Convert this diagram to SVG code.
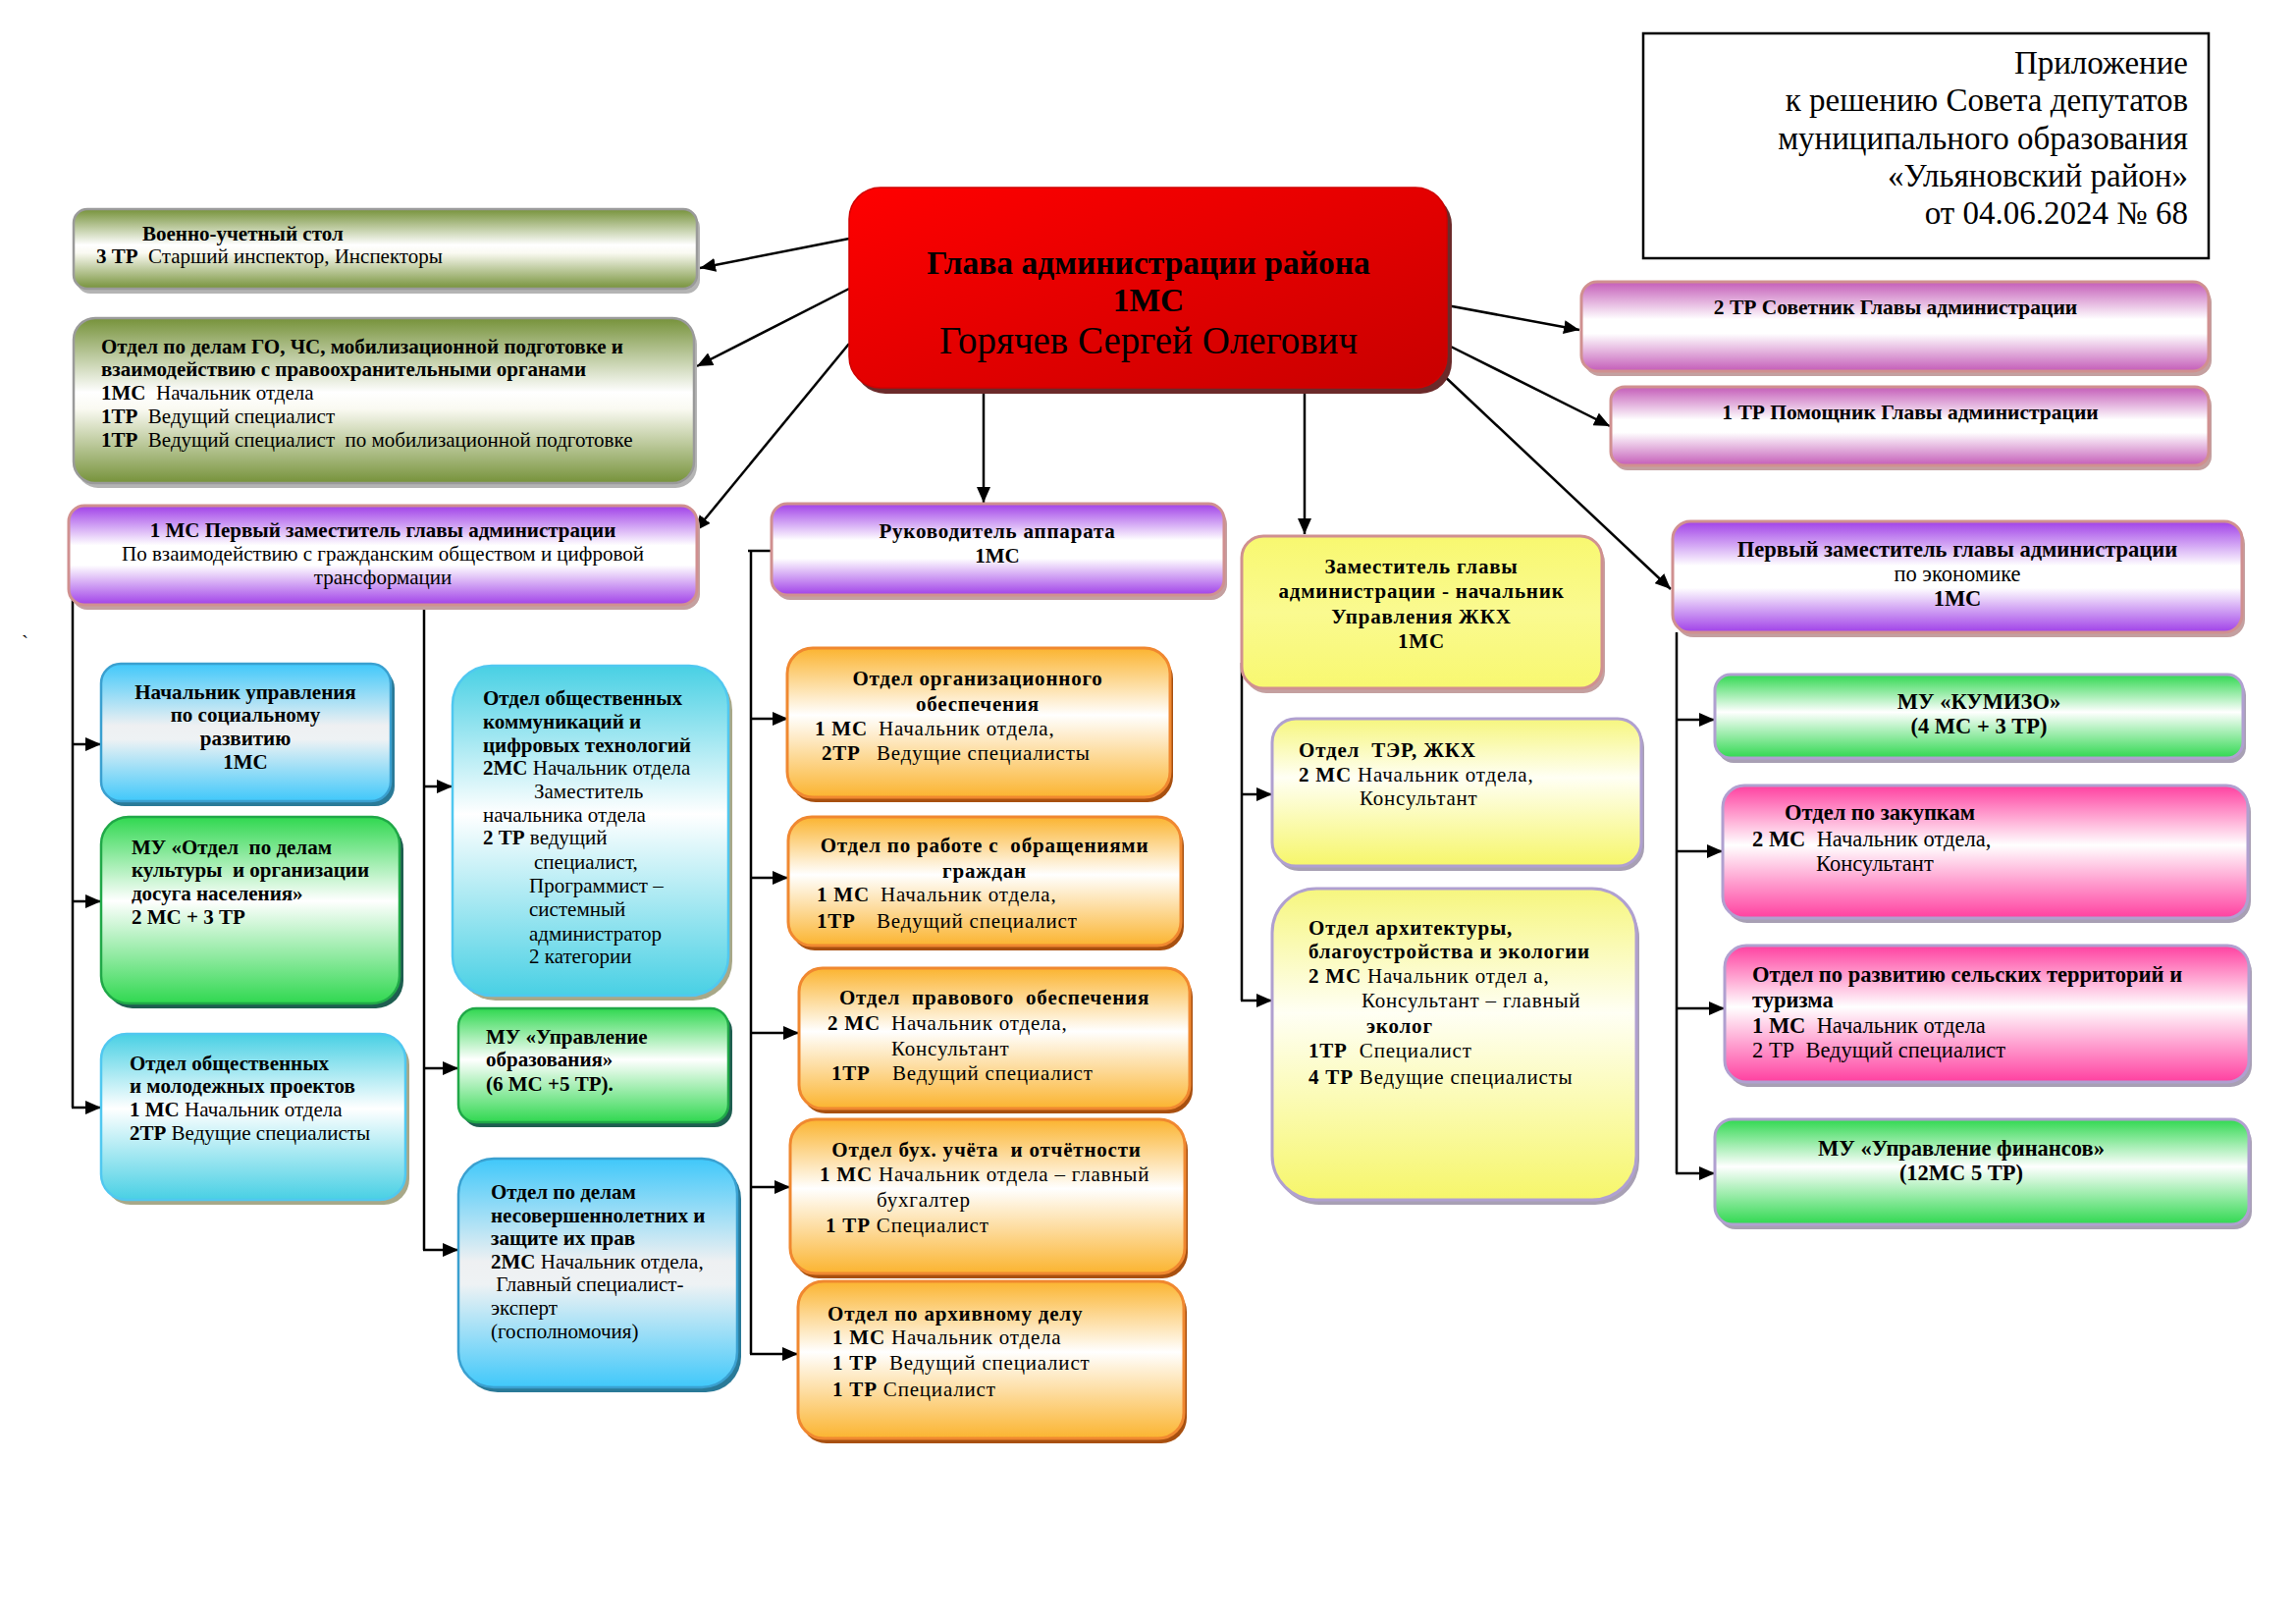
<svg xmlns="http://www.w3.org/2000/svg" width="2339" height="1654" viewBox="0 0 2339 1654">
<defs>
<linearGradient id="gRed" x1="0" y1="0" x2="1" y2="1"><stop offset="0" stop-color="#ff0000"/><stop offset="1" stop-color="#c80000"/></linearGradient>
<linearGradient id="gOlive" x1="0" y1="0" x2="0" y2="1"><stop offset="0" stop-color="#76923a"/><stop offset="0.45" stop-color="#ffffff"/><stop offset="0.55" stop-color="#fafaf2"/><stop offset="1" stop-color="#76923a"/></linearGradient>
<linearGradient id="gPurple" x1="0" y1="0" x2="0" y2="1"><stop offset="0" stop-color="#a040e8"/><stop offset="0.4" stop-color="#ffffff"/><stop offset="0.6" stop-color="#ffffff"/><stop offset="1" stop-color="#a040e8"/></linearGradient>
<linearGradient id="gMagenta" x1="0" y1="0" x2="0" y2="1"><stop offset="0" stop-color="#c45cb8"/><stop offset="0.42" stop-color="#ffffff"/><stop offset="0.58" stop-color="#ffffff"/><stop offset="1" stop-color="#c45cb8"/></linearGradient>
<linearGradient id="gBlue" x1="0" y1="0" x2="0" y2="1"><stop offset="0" stop-color="#40c8fa"/><stop offset="0.45" stop-color="#eef0f2"/><stop offset="0.55" stop-color="#eef2f4"/><stop offset="1" stop-color="#40c8fa"/></linearGradient>
<linearGradient id="gCyan" x1="0" y1="0" x2="0" y2="1"><stop offset="0" stop-color="#48d0e4"/><stop offset="0.45" stop-color="#ffffff"/><stop offset="1" stop-color="#48d0e4"/></linearGradient>
<linearGradient id="gGreen" x1="0" y1="0" x2="0" y2="1"><stop offset="0" stop-color="#30d850"/><stop offset="0.45" stop-color="#ffffff"/><stop offset="1" stop-color="#30d850"/></linearGradient>
<linearGradient id="gOrange" x1="0" y1="0" x2="0" y2="1"><stop offset="0" stop-color="#fbb430"/><stop offset="0.45" stop-color="#ffffff"/><stop offset="1" stop-color="#fbb430"/></linearGradient>
<linearGradient id="gYellow" x1="0" y1="0" x2="0" y2="1"><stop offset="0" stop-color="#f6f67e"/><stop offset="0.4" stop-color="#fffff4"/><stop offset="1" stop-color="#f6f66a"/></linearGradient>
<linearGradient id="gYellowHead" x1="0" y1="0" x2="0" y2="1"><stop offset="0" stop-color="#f8f870"/><stop offset="0.5" stop-color="#fafa90"/><stop offset="1" stop-color="#f8f870"/></linearGradient>
<linearGradient id="gPink" x1="0" y1="0" x2="0" y2="1"><stop offset="0" stop-color="#ff40a0"/><stop offset="0.45" stop-color="#ffffff"/><stop offset="1" stop-color="#ff40a0"/></linearGradient>
<marker id="arr" markerUnits="userSpaceOnUse" markerWidth="16" markerHeight="14" viewBox="0 0 16 14" refX="16" refY="7" orient="auto"><path d="M0,0 L16,7 L0,14 z" fill="#000"/></marker>
<style>
.t{font-family:"Liberation Serif","Times New Roman",serif;font-size:21px;fill:#000;white-space:pre}
.b{font-weight:bold}
.c{text-anchor:middle}
.e{text-anchor:end}
.ls{letter-spacing:0.8px}
.r{font-size:22.5px}
.s2{font-size:21.5px}
.hd{font-size:33px}
.conn line{stroke:#000;stroke-width:2.5;fill:none}
.a{marker-end:url(#arr)}
.olive{fill:url(#gOlive);stroke:#9a9a9a;stroke-width:2.5}
.purple{fill:url(#gPurple);stroke:#d09090;stroke-width:3}
.magenta{fill:url(#gMagenta);stroke:#d09090;stroke-width:3}
.blue{fill:url(#gBlue);stroke:#3aa0d0;stroke-width:2.5}
.cyan{fill:url(#gCyan);stroke:#50c8f0;stroke-width:2.5}
.green{fill:url(#gGreen);stroke:#20a848;stroke-width:2.5}
.greenL{fill:url(#gGreen);stroke:#b0a0d0;stroke-width:3}
.orange{fill:url(#gOrange);stroke:#f08830;stroke-width:3}
.yellow{fill:url(#gYellow);stroke:#b0a0d0;stroke-width:3}
.yhead{fill:url(#gYellowHead);stroke:#d09090;stroke-width:3}
.pink{fill:url(#gPink);stroke:#b0a0d0;stroke-width:3}
.sh-gray{fill:#b4b4b4}
.sh-rose{fill:#c4a0a0}
.sh-blue{fill:#2a7a98}
.sh-cyanb{fill:#a8a888}
.sh-green{fill:#1e5e50}
.sh-orange{fill:#a85010}
.sh-lav{fill:#a8a0b4}
</style>
</defs>
<rect x="0" y="0" width="2339" height="1654" fill="#ffffff"/>

<g id="connectors" class="conn">
<line class="a" x1="865" y1="243" x2="713" y2="273"/>
<line class="a" x1="865" y1="294" x2="710" y2="373"/>
<line class="a" x1="865" y1="350" x2="708" y2="541"/>
<line class="a" x1="1002" y1="395" x2="1002" y2="512"/>
<line class="a" x1="1329" y1="393" x2="1329" y2="544"/>
<line class="a" x1="1474" y1="311" x2="1609" y2="336"/>
<line class="a" x1="1474" y1="351" x2="1640" y2="434"/>
<line class="a" x1="1466" y1="378" x2="1702" y2="600"/>
<line x1="74" y1="605" x2="74" y2="1128"/>
<line class="a" x1="73" y1="758" x2="103" y2="758"/>
<line class="a" x1="73" y1="918" x2="103" y2="918"/>
<line class="a" x1="73" y1="1128" x2="103" y2="1128"/>
<line x1="432" y1="616" x2="432" y2="1273"/>
<line class="a" x1="431" y1="801" x2="461" y2="801"/>
<line class="a" x1="431" y1="1088" x2="467" y2="1088"/>
<line class="a" x1="431" y1="1273" x2="467" y2="1273"/>
<line x1="762" y1="561" x2="786" y2="561"/>
<line x1="765" y1="561" x2="765" y2="1379"/>
<line class="a" x1="764" y1="732" x2="803" y2="732"/>
<line class="a" x1="764" y1="894" x2="803" y2="894"/>
<line class="a" x1="764" y1="1052" x2="814" y2="1052"/>
<line class="a" x1="764" y1="1209" x2="805" y2="1209"/>
<line class="a" x1="764" y1="1379" x2="813" y2="1379"/>
<line x1="1265" y1="675" x2="1265" y2="1019"/>
<line class="a" x1="1264" y1="809" x2="1296" y2="809"/>
<line class="a" x1="1264" y1="1019" x2="1296" y2="1019"/>
<line x1="1708" y1="644" x2="1708" y2="1195"/>
<line class="a" x1="1707" y1="733" x2="1747" y2="733"/>
<line class="a" x1="1707" y1="867" x2="1755" y2="867"/>
<line class="a" x1="1707" y1="1027" x2="1757" y2="1027"/>
<line class="a" x1="1707" y1="1195" x2="1747" y2="1195"/>
</g>

<g id="header">
<rect x="1674" y="34" width="576" height="229" fill="#ffffff" stroke="#000" stroke-width="2.5"/>
<text class="t hd e" x="2229" y="75">Приложение</text>
<text class="t hd e" x="2229" y="113">к решению Совета депутатов</text>
<text class="t hd e" x="2229" y="152">муниципального образования</text>
<text class="t hd e" x="2229" y="190">«Ульяновский район»</text>
<text class="t hd e" x="2229" y="228">от 04.06.2024 № 68</text>
</g>

<g id="glava">
<rect x="870" y="197" width="609" height="204" rx="32" fill="#6b2a2a"/>
<rect x="865" y="191" width="609" height="204" rx="32" fill="url(#gRed)" stroke="#d00000" stroke-width="1.5"/>
<text class="t b c" x="1170" y="279" style="font-size:33.5px">Глава администрации района</text>
<text class="t b c" x="1170" y="317" style="font-size:33.5px">1МС</text>
<text class="t c" x="1170" y="360" style="font-size:39px">Горячев Сергей Олегович</text>
</g>

<g id="voenno">
<rect x="78" y="218" width="635" height="81" rx="14" class="sh-gray"/>
<rect x="75" y="213" width="635" height="81" rx="14" class="olive"/>
<text class="t b" x="145" y="245">Военно-учетный стол</text>
<text class="t" x="98" y="268"><tspan class="b">3 ТР</tspan>  Старший инспектор, Инспекторы</text>
</g>

<g id="gochs">
<rect x="78" y="329" width="632" height="168" rx="22" class="sh-gray"/>
<rect x="75" y="324" width="632" height="168" rx="22" class="olive"/>
<text class="t b" x="103" y="360">Отдел по делам ГО, ЧС, мобилизационной подготовке и</text>
<text class="t b" x="103" y="383">взаимодействию с правоохранительными органами</text>
<text class="t" x="103" y="407"><tspan class="b">1МС</tspan>  Начальник отдела</text>
<text class="t" x="103" y="431"><tspan class="b">1ТР</tspan>  Ведущий специалист</text>
<text class="t" x="103" y="455"><tspan class="b">1ТР</tspan>  Ведущий специалист  по мобилизационной подготовке</text>
</g>

<g id="deputy1">
<rect x="73" y="520" width="640" height="101" rx="16" class="sh-rose"/>
<rect x="70" y="515" width="640" height="101" rx="16" class="purple"/>
<text class="t b c" x="390" y="547">1 МС Первый заместитель главы администрации</text>
<text class="t c" x="390" y="571">По взаимодействию с гражданским обществом и цифровой</text>
<text class="t c" x="390" y="595">трансформации</text>
</g>

<g id="apparat">
<rect x="789" y="518" width="461" height="93" rx="16" class="sh-rose"/>
<rect x="786" y="513" width="461" height="93" rx="16" class="purple"/>
<text class="t b c ls" x="1016" y="548">Руководитель аппарата</text>
<text class="t b c" x="1016" y="573">1МС</text>
</g>

<g id="zhkh">
<rect x="1268" y="551" width="367" height="155" rx="22" class="sh-rose"/>
<rect x="1265" y="546" width="367" height="155" rx="22" class="yhead"/>
<text class="t b c ls" x="1448" y="584">Заместитель главы</text>
<text class="t b c ls" x="1448" y="609">администрации - начальник</text>
<text class="t b c ls" x="1448" y="635">Управления ЖКХ</text>
<text class="t b c ls" x="1448" y="660">1МС</text>
</g>

<g id="deputy2">
<rect x="1707" y="536" width="580" height="113" rx="18" class="sh-rose"/>
<rect x="1704" y="531" width="580" height="113" rx="18" class="purple"/>
<text class="t r b c" x="1994" y="567">Первый заместитель главы администрации</text>
<text class="t r c" x="1994" y="592">по экономике</text>
<text class="t r b c" x="1994" y="617">1МС</text>
</g>

<g id="sovetnik">
<rect x="1614" y="292" width="639" height="91" rx="16" class="sh-rose"/>
<rect x="1611" y="287" width="639" height="91" rx="16" class="magenta"/>
<text class="t s2 b c" x="1931" y="320">2 ТР Советник Главы администрации</text>
</g>

<g id="pomoshnik">
<rect x="1644" y="399" width="609" height="80" rx="14" class="sh-rose"/>
<rect x="1641" y="394" width="609" height="80" rx="14" class="magenta"/>
<text class="t s2 b c" x="1946" y="427">1 ТР Помощник Главы администрации</text>
</g>

<g id="soc">
<rect x="107" y="681" width="295" height="140" rx="20" class="sh-blue"/>
<rect x="103" y="676" width="295" height="140" rx="20" class="blue"/>
<text class="t b c" x="250" y="712">Начальник управления</text>
<text class="t b c" x="250" y="735">по социальному</text>
<text class="t b c" x="250" y="759">развитию</text>
<text class="t b c" x="250" y="783">1МС</text>
</g>

<g id="kultura">
<rect x="107" y="837" width="304" height="190" rx="28" class="sh-green"/>
<rect x="103" y="832" width="304" height="190" rx="28" class="green"/>
<text class="t b" x="134" y="870">МУ «Отдел  по делам</text>
<text class="t b" x="134" y="893">культуры  и организации</text>
<text class="t b" x="134" y="917">досуга населения»</text>
<text class="t b" x="134" y="941">2 МС + 3 ТР</text>
</g>

<g id="molodezh">
<rect x="107" y="1058" width="310" height="169" rx="26" class="sh-cyanb"/>
<rect x="103" y="1053" width="310" height="169" rx="26" class="cyan"/>
<text class="t b" x="132" y="1090">Отдел общественных</text>
<text class="t b" x="132" y="1113">и молодежных проектов</text>
<text class="t" x="132" y="1137"><tspan class="b">1 МС</tspan> Начальник отдела</text>
<text class="t" x="132" y="1161"><tspan class="b">2ТР</tspan> Ведущие специалисты</text>
</g>

<g id="kommunik">
<rect x="465" y="683" width="281" height="336" rx="40" class="sh-cyanb"/>
<rect x="461" y="678" width="281" height="336" rx="40" class="cyan"/>
<text class="t b" x="492" y="718">Отдел общественных</text>
<text class="t b" x="492" y="742">коммуникаций и</text>
<text class="t b" x="492" y="766">цифровых технологий</text>
<text class="t" x="492" y="789"><tspan class="b">2МС</tspan> Начальник отдела</text>
<text class="t" x="544" y="813">Заместитель</text>
<text class="t" x="492" y="837">начальника отдела</text>
<text class="t" x="492" y="860"><tspan class="b">2 ТР</tspan> ведущий</text>
<text class="t" x="544" y="885">специалист,</text>
<text class="t" x="539" y="909">Программист –</text>
<text class="t" x="539" y="933">системный</text>
<text class="t" x="539" y="958">администратор</text>
<text class="t" x="539" y="981">2 категории</text>
</g>

<g id="obrazovanie">
<rect x="471" y="1032" width="275" height="116" rx="18" class="sh-green"/>
<rect x="467" y="1027" width="275" height="116" rx="18" class="green"/>
<text class="t b" x="495" y="1063">МУ «Управление</text>
<text class="t b" x="495" y="1086">образования»</text>
<text class="t b" x="495" y="1111">(6 МС +5 ТР).</text>
</g>

<g id="nesovershen">
<rect x="471" y="1185" width="284" height="233" rx="36" class="sh-blue"/>
<rect x="467" y="1180" width="284" height="233" rx="36" class="blue"/>
<text class="t b" x="500" y="1221">Отдел по делам</text>
<text class="t b" x="500" y="1245">несовершеннолетних и</text>
<text class="t b" x="500" y="1268">защите их прав</text>
<text class="t" x="500" y="1292"><tspan class="b">2МС</tspan> Начальник отдела,</text>
<text class="t" x="500" y="1315"> Главный специалист-</text>
<text class="t" x="500" y="1339">эксперт</text>
<text class="t" x="500" y="1363">(госполномочия)</text>
</g>

<g id="orgotdel">
<rect x="805" y="665" width="390" height="152" rx="26" class="sh-orange"/>
<rect x="802" y="660" width="390" height="152" rx="26" class="orange"/>
<text class="t b c ls" x="996" y="698">Отдел организационного</text>
<text class="t b c ls" x="996" y="724">обеспечения</text>
<text class="t b ls" x="830" y="749">1 МС</text>
<text class="t ls" x="895" y="749">Начальник отдела,</text>
<text class="t b ls" x="837" y="774">2ТР</text>
<text class="t ls" x="893" y="774">Ведущие специалисты</text>
</g>

<g id="obrascheniya">
<rect x="806" y="837" width="400" height="131" rx="24" class="sh-orange"/>
<rect x="803" y="832" width="400" height="131" rx="24" class="orange"/>
<text class="t b c ls" x="1003" y="868">Отдел по работе с  обращениями</text>
<text class="t b c ls" x="1003" y="894">граждан</text>
<text class="t b ls" x="832" y="918">1 МС</text>
<text class="t ls" x="897" y="918">Начальник отдела,</text>
<text class="t b ls" x="832" y="945">1ТР</text>
<text class="t ls" x="893" y="945">Ведущий специалист</text>
</g>

<g id="pravovoy">
<rect x="817" y="991" width="398" height="143" rx="24" class="sh-orange"/>
<rect x="814" y="986" width="398" height="143" rx="24" class="orange"/>
<text class="t b c ls" x="1013" y="1023">Отдел  правового  обеспечения</text>
<text class="t b ls" x="843" y="1049">2 МС</text>
<text class="t ls" x="908" y="1049">Начальник отдела,</text>
<text class="t ls" x="908" y="1075">Консультант</text>
<text class="t b ls" x="847" y="1100">1ТР</text>
<text class="t ls" x="909" y="1100">Ведущий специалист</text>
</g>

<g id="buh">
<rect x="808" y="1145" width="402" height="157" rx="26" class="sh-orange"/>
<rect x="805" y="1140" width="402" height="157" rx="26" class="orange"/>
<text class="t b c ls" x="1005" y="1178">Отдел бух. учёта  и отчётности</text>
<text class="t ls" x="835" y="1203"><tspan class="b">1 МС</tspan> Начальник отдела – главный</text>
<text class="t ls" x="893" y="1229">бухгалтер</text>
<text class="t ls" x="841" y="1255"><tspan class="b">1 ТР</tspan> Специалист</text>
</g>

<g id="arhiv">
<rect x="816" y="1310" width="393" height="160" rx="26" class="sh-orange"/>
<rect x="813" y="1305" width="393" height="160" rx="26" class="orange"/>
<text class="t b ls" x="843" y="1345">Отдел по архивному делу</text>
<text class="t ls" x="848" y="1369"><tspan class="b">1 МС</tspan> Начальник отдела</text>
<text class="t ls" x="848" y="1395"><tspan class="b">1 ТР</tspan>  Ведущий специалист</text>
<text class="t ls" x="848" y="1422"><tspan class="b">1 ТР</tspan> Специалист</text>
</g>

<g id="ter">
<rect x="1299" y="737" width="376" height="150" rx="24" class="sh-lav"/>
<rect x="1296" y="732" width="376" height="150" rx="24" class="yellow"/>
<text class="t b ls" x="1323" y="771">Отдел  ТЭР, ЖКХ</text>
<text class="t ls" x="1323" y="796"><tspan class="b">2 МС</tspan> Начальник отдела,</text>
<text class="t ls" x="1385" y="820">Консультант</text>
</g>

<g id="arhitektura">
<rect x="1299" y="910" width="371" height="317" rx="45" class="sh-lav"/>
<rect x="1296" y="905" width="371" height="317" rx="45" class="yellow"/>
<text class="t b ls" x="1333" y="952">Отдел архитектуры,</text>
<text class="t b ls" x="1333" y="976">благоустройства и экологии</text>
<text class="t ls" x="1333" y="1001"><tspan class="b">2 МС</tspan> Начальник отдел а,</text>
<text class="t ls" x="1387" y="1026">Консультант – главный</text>
<text class="t b ls" x="1392" y="1052">эколог</text>
<text class="t ls" x="1333" y="1077"><tspan class="b">1ТР</tspan>  Специалист</text>
<text class="t ls" x="1333" y="1104"><tspan class="b">4 ТР</tspan> Ведущие специалисты</text>
</g>

<g id="kumizo">
<rect x="1750" y="692" width="538" height="85" rx="16" class="sh-lav"/>
<rect x="1747" y="687" width="538" height="85" rx="16" class="greenL"/>
<text class="t r b c" x="2016" y="722">МУ «КУМИЗО»</text>
<text class="t r b c" x="2016" y="747">(4 МС + 3 ТР)</text>
</g>

<g id="zakupki">
<rect x="1758" y="805" width="535" height="135" rx="22" class="sh-lav"/>
<rect x="1755" y="800" width="535" height="135" rx="22" class="pink"/>
<text class="t r b" x="1818" y="835">Отдел по закупкам</text>
<text class="t r" x="1785" y="862"><tspan class="b">2 МС</tspan>  Начальник отдела,</text>
<text class="t r" x="1850" y="887">Консультант</text>
</g>

<g id="selskie">
<rect x="1760" y="968" width="534" height="139" rx="22" class="sh-lav"/>
<rect x="1757" y="963" width="534" height="139" rx="22" class="pink"/>
<text class="t r b" x="1785" y="1000">Отдел по развитию сельских территорий и</text>
<text class="t r b" x="1785" y="1026">туризма</text>
<text class="t r" x="1785" y="1052"><tspan class="b">1 МС</tspan>  Начальник отдела</text>
<text class="t r" x="1785" y="1077">2 ТР  Ведущий специалист</text>
</g>

<g id="finansy">
<rect x="1750" y="1145" width="544" height="107" rx="18" class="sh-lav"/>
<rect x="1747" y="1140" width="544" height="107" rx="18" class="greenL"/>
<text class="t r b c" x="1998" y="1177">МУ «Управление финансов»</text>
<text class="t r b c" x="1998" y="1202">(12МС 5 ТР)</text>
</g>

<text class="t" x="22" y="662">`</text>
</svg>
